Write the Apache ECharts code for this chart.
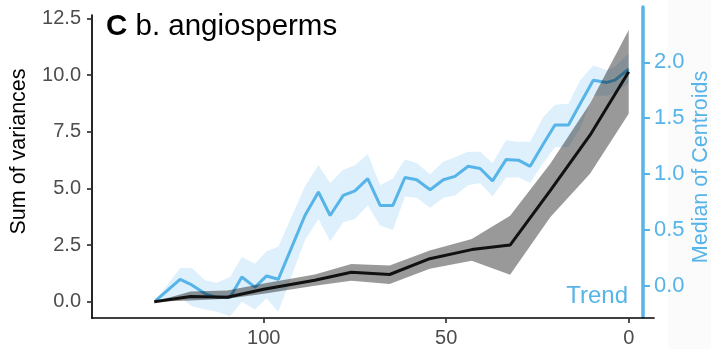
<!DOCTYPE html>
<html>
<head>
<meta charset="utf-8">
<script src="https://cdn.jsdelivr.net/npm/echarts@6/dist/echarts.min.js"></script>
<style>
html,body{margin:0;padding:0;background:#fff;}
#c{width:711px;height:349px;}
</style>
</head>
<body>
<div id="c"></div>
<script>
// Sum of variances (left axis), time in Ma
var timeVar = [130, 120, 110, 100, 86, 76, 65.5, 54.5, 43, 32.5, 21.5, 10.6, 0];
var sumVar = [0, 0.23, 0.2, 0.55, 0.95, 1.3, 1.2, 1.9, 2.3, 2.5, 4.9, 7.35, 10.15];
var sumVarUpper = [0, 0.45, 0.49, 0.8, 1.2, 1.67, 1.6, 2.26, 2.77, 3.8, 6.09, 8.75, 12.0];
var sumVarLower = [0, 0.05, 0.13, 0.35, 0.7, 0.93, 0.78, 1.45, 1.81, 1.19, 3.73, 5.65, 8.3];

// Median of centroids (right axis)
var timeCen = [129.6, 122.9, 119.7, 116, 112.9, 109.2, 106, 102.4, 99.2, 96, 88.7, 85, 81.8, 78.2, 75, 71.5, 68.1, 64.6, 61.3, 58.1, 54.4, 50.8, 47.6, 44, 40.7, 37.3, 33.6, 30.2, 27, 23.4, 20.2, 16.5, 13.3, 9.7, 6, 3.75, 0];
var medCen = [-0.13, 0.06, 0.01, -0.07, -0.10, -0.10, 0.08, -0.01, 0.09, 0.06, 0.63, 0.84, 0.63, 0.81, 0.85, 0.96, 0.72, 0.72, 0.97, 0.95, 0.86, 0.95, 0.98, 1.07, 1.05, 0.94, 1.13, 1.125, 1.07, 1.27, 1.44, 1.44, 1.63, 1.84, 1.82, 1.84, 1.94];
var medCenUpper = [-0.13, 0.16, 0.16, 0.05, 0.03, 0.08, 0.26, 0.20, 0.31, 0.35, 0.89, 1.08, 0.92, 1.04, 1.08, 1.18, 0.90, 0.96, 1.13, 1.10, 1.00, 1.11, 1.15, 1.20, 1.20, 1.10, 1.30, 1.29, 1.29, 1.51, 1.62, 1.63, 1.84, 1.97, 1.93, 1.96, 2.08];
var medCenLower = [-0.13, -0.10, -0.18, -0.21, -0.23, -0.27, -0.14, -0.21, -0.11, -0.23, 0.41, 0.60, 0.40, 0.57, 0.60, 0.72, 0.54, 0.50, 0.80, 0.79, 0.70, 0.79, 0.81, 0.90, 0.92, 0.80, 0.97, 0.97, 0.92, 1.10, 1.24, 1.24, 1.41, 1.70, 1.70, 1.73, 1.81];

// tick labels
var xTicks = [0, 50, 100];
var leftTicks = [0, 2.5, 5, 7.5, 10, 12.5];
var rightTicks = [0, 0.5, 1, 1.5, 2];

var BLUE = '#56B4E9';
var FONT = 'Liberation Sans, Arial, sans-serif';

function pairs(xs, ys) { return xs.map(function (x, i) { return [x, ys[i]]; }); }

function bandSeries(xs, lo, hi, xi, yi, color, z) {
  return {
    type: 'custom', xAxisIndex: xi, yAxisIndex: yi, z: z, silent: true,
    data: [0],
    renderItem: function (params, api) {
      var pts = [];
      for (var i = 0; i < xs.length; i++) pts.push(api.coord([xs[i], hi[i]]));
      for (var j = xs.length - 1; j >= 0; j--) pts.push(api.coord([xs[j], lo[j]]));
      return { type: 'polygon', shape: { points: pts }, style: { fill: color } };
    }
  };
}

var chart = echarts.init(document.getElementById('c'), null, { renderer: 'canvas' });
chart.setOption({
  animation: false,
  backgroundColor: '#fff',
  grid: [
    { left: 92, right: 57, top: 15, bottom: 31 },
    { left: 92, right: 68, top: 7, bottom: 32 }
  ],
  xAxis: [
    {
      type: 'value', gridIndex: 0, inverse: true, min: -6.93, max: 147.04,
      axisLine: { show: true, onZero: false, lineStyle: { color: '#000', width: 1.7 } },
      axisTick: { show: true, customValues: xTicks, length: 5, lineStyle: { color: '#333', width: 1.7 } },
      axisLabel: { customValues: xTicks, fontSize: 20, color: '#4d4d4d', margin: 10, fontFamily: FONT },
      splitLine: { show: false }
    },
    {
      type: 'value', gridIndex: 1, inverse: true, min: -3.92, max: 147.04, show: false,
      splitLine: { show: false }
    }
  ],
  yAxis: [
    {
      type: 'value', gridIndex: 0, position: 'left', min: -0.72, max: 12.66,
      axisLine: { show: true, onZero: false, lineStyle: { color: '#000', width: 1.7 } },
      axisTick: { show: true, customValues: leftTicks, length: 5, lineStyle: { color: '#333', width: 1.7 } },
      axisLabel: { customValues: leftTicks, fontSize: 20, color: '#4d4d4d', margin: 11, fontFamily: FONT,
        formatter: function (v) { return v.toFixed(1); } },
      splitLine: { show: false }
    },
    {
      type: 'value', gridIndex: 1, position: 'right', min: -0.277, max: 2.494,
      axisLine: { show: true, onZero: false, lineStyle: { color: BLUE, width: 3.5 } },
      axisTick: { show: true, customValues: rightTicks, length: 7, lineStyle: { color: BLUE, width: 2 } },
      axisLabel: { customValues: rightTicks, fontSize: 22, color: BLUE, margin: 11, fontFamily: FONT,
        formatter: function (v) { return v.toFixed(1); } },
      splitLine: { show: false }
    }
  ],
  graphic: [
    { type: 'rect', shape: { x: 668, y: 0, width: 43, height: 349 }, style: { fill: '#fbfbfb' }, z: -10, silent: true },
    { type: 'text', x: 106, y: 27, z: 100,
      style: { text: '{b|C} b. angiosperms', font: '29.5px ' + FONT, fill: '#000', verticalAlign: 'middle',
        rich: { b: { fontWeight: 'bold', fontSize: 29.5, fontFamily: FONT, fill: '#000' } } } },
    { type: 'text', x: 19, y: 151.5, rotation: Math.PI / 2, z: 100,
      style: { text: 'Sum of variances', font: '21.5px ' + FONT, fill: '#000', align: 'center', verticalAlign: 'middle' } },
    { type: 'text', x: 701, y: 167, rotation: Math.PI / 2, z: 100,
      style: { text: 'Median of Centroids', font: '21.5px ' + FONT, fill: BLUE, align: 'center', verticalAlign: 'middle' } },
    { type: 'text', x: 628, y: 296, z: 100,
      style: { text: 'Trend', font: '24px ' + FONT, fill: BLUE, align: 'right', verticalAlign: 'middle' } }
  ],
  series: [
    bandSeries(timeCen, medCenLower, medCenUpper, 1, 1, 'rgba(86,180,233,0.2)', 1),
    {
      type: 'line', xAxisIndex: 1, yAxisIndex: 1, z: 2, data: pairs(timeCen, medCen),
      symbol: 'none', lineStyle: { color: BLUE, width: 3 }
    },
    bandSeries(timeVar, sumVarLower, sumVarUpper, 0, 0, 'rgba(0,0,0,0.4)', 3),
    {
      type: 'line', xAxisIndex: 0, yAxisIndex: 0, z: 4, data: pairs(timeVar, sumVar),
      symbol: 'none', lineStyle: { color: '#111', width: 3 }
    }
  ]
});
</script>
</body>
</html>
